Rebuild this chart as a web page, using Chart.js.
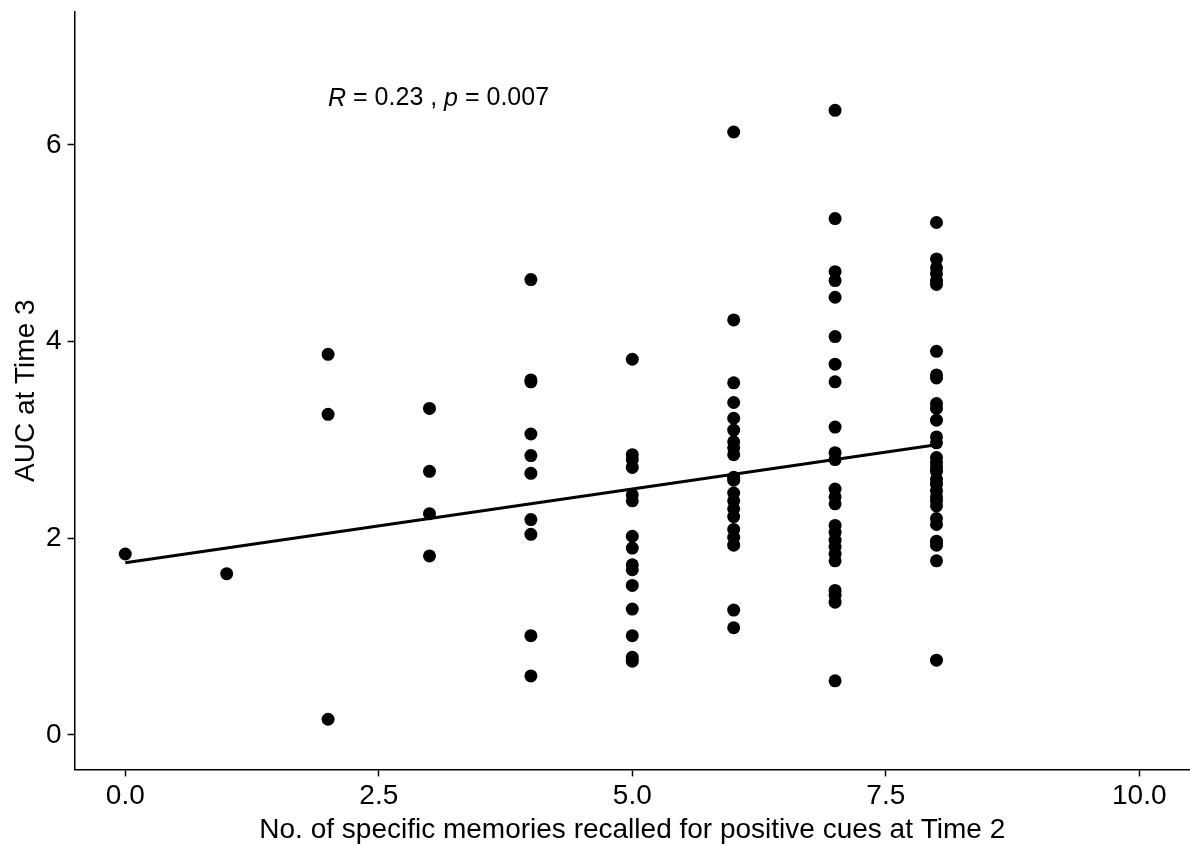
<!DOCTYPE html>
<html>
<head>
<meta charset="utf-8">
<script src="https://cdn.jsdelivr.net/npm/chart.js@4"></script>
<style>
  html, body { margin: 0; padding: 0; background: #fff; overflow: hidden; }
  #wrap { width: 1190px; height: 845px; }
</style>
</head>
<body>
<div id="wrap"><canvas id="scatterChart"></canvas></div>
<script>
// AUC at Time 3, grouped by number of specific memories recalled (Time 2)
var auc0 = [1.84];
var auc1 = [1.64];
var auc2 = [3.87, 3.26, 0.16];
var auc3 = [3.32, 2.68, 2.25, 1.82];
var auc4 = [4.63, 3.61, 3.59, 3.06, 2.84, 2.66, 2.19, 2.04, 1.01, 0.60];
var auc5 = [3.82, 2.85, 2.80, 2.72, 2.44, 2.38, 2.02, 1.90, 1.73, 1.68, 1.52, 1.28, 1.01, 0.79, 0.75];
var auc6 = [6.13, 4.22, 3.58, 3.38, 3.22, 3.10, 2.98, 2.92, 2.85, 2.62, 2.59, 2.46, 2.38, 2.30, 2.22,
            2.09, 2.01, 1.93, 1.27, 1.09];
var auc7 = [6.35, 5.25, 4.71, 4.62, 4.45, 4.05, 3.77, 3.59, 3.13, 2.87, 2.80, 2.50, 2.42, 2.35, 2.13,
            2.06, 1.98, 1.91, 1.84, 1.77, 1.47, 1.42, 1.35, 0.55];
var auc8 = [5.21, 4.84, 4.75, 4.69, 4.62, 4.58, 3.90, 3.66, 3.63, 3.37, 3.32, 3.20, 3.03, 2.97, 2.82,
            2.77, 2.72, 2.68, 2.60, 2.55, 2.48, 2.42, 2.38, 2.33, 2.20, 2.14, 1.97, 1.93, 1.77, 0.76];
var groups = [auc0, auc1, auc2, auc3, auc4, auc5, auc6, auc7, auc8];

// fitted regression line
var fitX = [0, 8];
var fitY = [1.75, 2.95];

var xTicks = [0, 2.5, 5, 7.5, 10];
var yTicks = [0, 2, 4, 6];
var corrLabel = { x: 2.0, y: 6.47 };

var points = [];
groups.forEach(function (vals, n) {
  vals.forEach(function (v) { points.push({ x: n, y: v }); });
});
var fitLine = fitX.map(function (x, i) { return { x: x, y: fitY[i] }; });

var FONT = "'Liberation Sans', Arial, Helvetica, sans-serif";

// draws "R = 0.23 , p = 0.007" with italic R and p
var corrPlugin = {
  id: "corrText",
  afterDatasetsDraw: function (chart) {
    var ctx = chart.ctx;
    var px = chart.scales.x.getPixelForValue(corrLabel.x);
    var py = chart.scales.y.getPixelForValue(corrLabel.y);
    var parts = [
      ["italic", "R"], ["normal", " = 0.23 , "], ["italic", "p"], ["normal", " = 0.007"]
    ];
    ctx.save();
    ctx.fillStyle = "#000";
    ctx.textBaseline = "middle";
    ctx.textAlign = "left";
    parts.forEach(function (p) {
      ctx.font = p[0] + " 25px " + FONT;
      ctx.fillText(p[1], px, py);
      px += ctx.measureText(p[1]).width;
    });
    ctx.restore();
  }
};

var axisGrid = {
  display: true,
  drawOnChartArea: false,
  drawTicks: true,
  tickLength: 7,
  tickWidth: 1.5,
  color: "#000"
};

// keep the axes flush with the layout padding (no room reserved for edge labels)
function noEdgePadding(scale) {
  scale.paddingTop = 0;
  scale.paddingBottom = 0;
  scale.paddingLeft = 0;
  scale.paddingRight = 0;
}

new Chart(document.getElementById("scatterChart"), {
  type: "scatter",
  data: {
    datasets: [
      {
        type: "line",
        label: "fit",
        data: fitLine,
        borderColor: "#000",
        borderWidth: 3,
        pointRadius: 0,
        fill: false,
        order: 0
      },
      {
        label: "AUC",
        data: points,
        backgroundColor: "#000",
        borderColor: "#000",
        pointRadius: 6.5,
        borderWidth: 0,
        order: 1
      }
    ]
  },
  options: {
    responsive: true,
    maintainAspectRatio: false,
    animation: false,
    layout: { autoPadding: false, padding: { left: 10, top: 12, right: 0, bottom: 1 } },
    plugins: { legend: { display: false }, tooltip: { enabled: false } },
    scales: {
      x: {
        type: "linear",
        min: -0.5,
        max: 10.5,
        grid: axisGrid,
        border: { display: true, color: "#000", width: 1.5 },
        afterBuildTicks: function (axis) {
          axis.ticks = xTicks.map(function (v) { return { value: v }; });
        },
        afterFit: noEdgePadding,
        ticks: {
          color: "#000",
          padding: 3,
          font: { family: FONT, size: 28 },
          callback: function (v) { return Number(v).toFixed(1); }
        },
        title: {
          display: true,
          text: "No. of specific memories recalled for positive cues at Time 2",
          color: "#000",
          font: { family: FONT, size: 28, lineHeight: 1 },
          padding: { top: 0, bottom: 0 }
        }
      },
      y: {
        type: "linear",
        min: -0.35,
        max: 7.35,
        grid: axisGrid,
        border: { display: true, color: "#000", width: 1.5 },
        afterBuildTicks: function (axis) {
          axis.ticks = yTicks.map(function (v) { return { value: v }; });
        },
        afterFit: noEdgePadding,
        ticks: {
          color: "#000",
          padding: 6,
          font: { family: FONT, size: 28 }
        },
        title: {
          display: true,
          text: "AUC at Time 3",
          color: "#000",
          font: { family: FONT, size: 28, lineHeight: 1 },
          padding: { top: 2, bottom: 0 }
        }
      }
    }
  },
  plugins: [corrPlugin]
});
</script>
</body>
</html>
